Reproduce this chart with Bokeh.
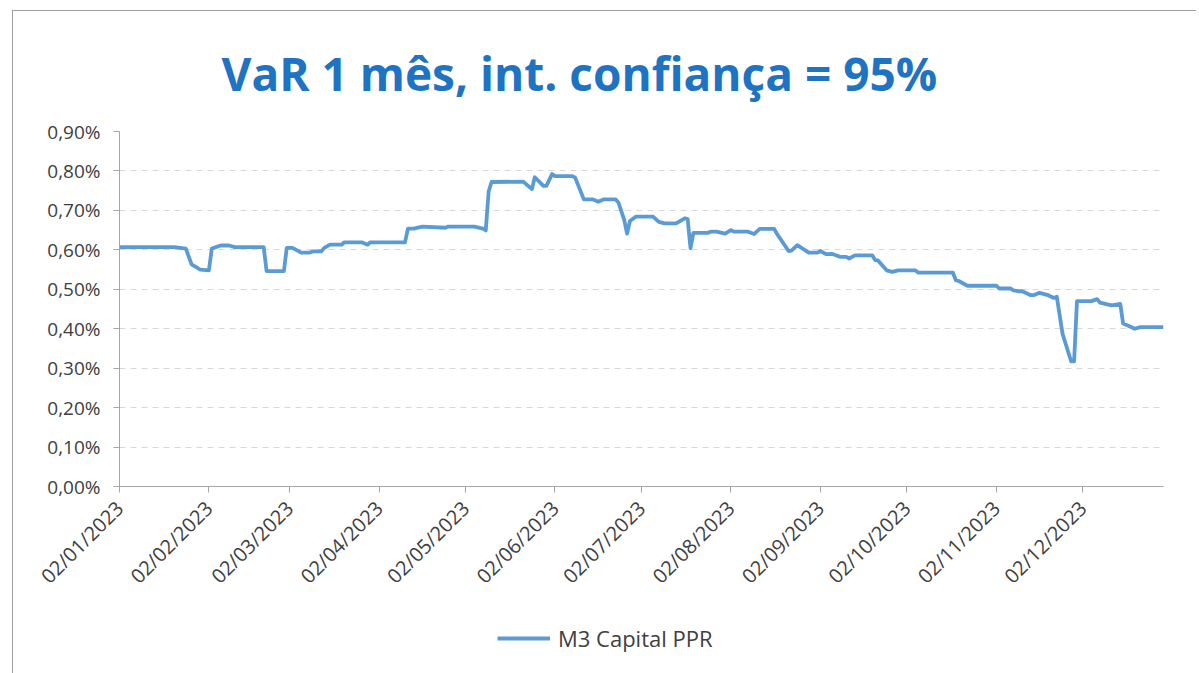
import pandas as pd
from bokeh.plotting import figure
from bokeh.layouts import column
from bokeh.models import Range1d, FixedTicker, Legend, LegendItem
from bokeh.embed import file_html
from bokeh.resources import INLINE

TITLE = "VaR 1 mês, int. confiança = 95%"
SERIES_NAME = "M3 Capital PPR"

DATES = [
    "2023-01-02", "2023-01-21", "2023-01-25", "2023-01-27", "2023-01-30",
    "2023-02-02", "2023-02-03", "2023-02-06", "2023-02-09", "2023-02-11", "2023-02-21", "2023-02-22", "2023-02-28",
    "2023-03-01", "2023-03-03", "2023-03-06", "2023-03-09", "2023-03-10", "2023-03-13", "2023-03-14", "2023-03-16",
    "2023-03-20", "2023-03-21", "2023-03-27", "2023-03-29", "2023-03-30",
    "2023-04-11", "2023-04-12", "2023-04-14", "2023-04-17", "2023-04-25", "2023-04-26",
    "2023-05-05", "2023-05-08", "2023-05-09", "2023-05-10", "2023-05-11", "2023-05-22", "2023-05-25", "2023-05-26",
    "2023-05-29", "2023-05-30",
    "2023-06-01", "2023-06-02", "2023-06-08", "2023-06-09", "2023-06-12", "2023-06-15", "2023-06-17", "2023-06-19",
    "2023-06-23", "2023-06-24", "2023-06-26", "2023-06-27", "2023-06-28", "2023-06-30",
    "2023-07-06", "2023-07-08", "2023-07-10", "2023-07-14", "2023-07-17", "2023-07-18", "2023-07-19", "2023-07-20",
    "2023-07-25", "2023-07-26", "2023-07-28", "2023-07-31",
    "2023-08-02", "2023-08-03", "2023-08-08", "2023-08-10", "2023-08-12", "2023-08-17", "2023-08-18", "2023-08-22",
    "2023-08-23", "2023-08-25", "2023-08-29",
    "2023-09-01", "2023-09-02", "2023-09-04", "2023-09-06", "2023-09-09", "2023-09-11", "2023-09-12", "2023-09-14",
    "2023-09-20", "2023-09-21", "2023-09-22", "2023-09-25", "2023-09-27", "2023-09-29",
    "2023-10-05", "2023-10-06", "2023-10-18", "2023-10-19", "2023-10-20", "2023-10-23",
    "2023-11-02", "2023-11-03", "2023-11-07", "2023-11-08", "2023-11-10", "2023-11-11", "2023-11-14", "2023-11-15",
    "2023-11-17", "2023-11-20", "2023-11-22", "2023-11-23", "2023-11-25", "2023-11-28", "2023-11-29", "2023-11-30",
    "2023-12-05", "2023-12-07", "2023-12-08", "2023-12-12", "2023-12-15", "2023-12-16", "2023-12-18", "2023-12-20",
    "2023-12-22", "2023-12-30",
]

VAR_PCT = [
    0.607, 0.607, 0.603, 0.563, 0.550,
    0.548, 0.603, 0.611, 0.611, 0.607, 0.607, 0.546, 0.546,
    0.605, 0.605, 0.593, 0.593, 0.596, 0.596, 0.605, 0.613,
    0.613, 0.619, 0.619, 0.613, 0.619,
    0.619, 0.654, 0.654, 0.659, 0.656, 0.659,
    0.659, 0.654, 0.649, 0.748, 0.772, 0.773, 0.754, 0.784,
    0.762, 0.762,
    0.792, 0.787, 0.787, 0.783, 0.728, 0.728, 0.722, 0.728,
    0.728, 0.720, 0.676, 0.641, 0.673, 0.684,
    0.684, 0.671, 0.667, 0.667, 0.680, 0.678, 0.604, 0.643,
    0.643, 0.646, 0.646, 0.641,
    0.650, 0.646, 0.646, 0.640, 0.653, 0.653, 0.640, 0.597,
    0.598, 0.612, 0.593,
    0.593, 0.597, 0.589, 0.590, 0.582, 0.582, 0.578, 0.586,
    0.586, 0.574, 0.573, 0.548, 0.544, 0.548,
    0.548, 0.542, 0.542, 0.523, 0.521, 0.509,
    0.509, 0.502, 0.502, 0.497, 0.495, 0.495, 0.485, 0.485,
    0.491, 0.485, 0.478, 0.481, 0.387, 0.317, 0.317, 0.470,
    0.470, 0.475, 0.466, 0.459, 0.463, 0.413, 0.407, 0.400,
    0.404, 0.404,
]

X_TICK_LABELS = ["02/01/2023", "02/02/2023", "02/03/2023", "02/04/2023", "02/05/2023", "02/06/2023",
                 "02/07/2023", "02/08/2023", "02/09/2023", "02/10/2023", "02/11/2023", "02/12/2023"]
Y_TICKS = [0.0, 0.1, 0.2, 0.3, 0.4, 0.5, 0.6, 0.7, 0.8, 0.9]
Y_TICK_LABELS = ["0,00%", "0,10%", "0,20%", "0,30%", "0,40%", "0,50%", "0,60%", "0,70%", "0,80%", "0,90%"]

X_START = "2023-01-02"
X_END = "2023-12-30"

assert len(DATES) == len(VAR_PCT)

FONT = "Open Sans"
LINE_COLOR = "#5b9bd5"
TEXT_COLOR = "#404040"
AXIS_COLOR = "#a6a6a6"

dates = pd.to_datetime(DATES)
x_tick_dates = pd.to_datetime(X_TICK_LABELS, format="%d/%m/%Y")
x_ticks_ms = [float(d.value // 10**6) for d in x_tick_dates]

# main chart
p = figure(width=1183, height=590, x_axis_type="datetime", output_backend="svg",
           toolbar_location=None, min_border_left=106, min_border_right=33,
           min_border_top=120, min_border_bottom=115,
           x_range=Range1d(pd.Timestamp(X_START), pd.Timestamp(X_END)),
           y_range=Range1d(0, 0.9))

p.title.text = TITLE
p.title.text_font = FONT
p.title.text_font_style = "bold"
p.title.text_font_size = "46px"
p.title.text_color = "#1f73c3"
p.title.align = "left"
p.title.offset = 102
p.title.standoff = 55

p.outline_line_color = None
p.background_fill_color = "white"
p.border_fill_color = "white"

r = p.line(dates, VAR_PCT, line_color=LINE_COLOR, line_width=3.8, line_join="round")

p.xgrid.grid_line_color = None
p.ygrid.grid_line_color = "#d9d9d9"
p.ygrid.grid_line_dash = "6 5"
p.ygrid.grid_line_width = 1

p.yaxis.ticker = FixedTicker(ticks=Y_TICKS)
p.yaxis.major_label_overrides = dict(zip(Y_TICKS, Y_TICK_LABELS))
p.xaxis.ticker = FixedTicker(ticks=x_ticks_ms)
p.xaxis.major_label_overrides = dict(zip(x_ticks_ms, X_TICK_LABELS))
p.xaxis.major_label_orientation = 0.785398

for ax in (p.xaxis, p.yaxis):
    ax.axis_line_color = AXIS_COLOR
    ax.major_tick_line_color = AXIS_COLOR
    ax.major_tick_in = 0
    ax.major_tick_out = 6
    ax.minor_tick_line_color = None
    ax.major_label_text_font = FONT
    ax.major_label_text_color = TEXT_COLOR
p.yaxis.major_label_text_font_size = "19px"
p.xaxis.major_label_text_font_size = "20px"
p.yaxis.major_label_standoff = 13
p.xaxis.major_label_standoff = 12

# legend strip below the chart (series drawn out of view, only its key shows)
p2 = figure(width=1183, height=72, output_backend="svg", toolbar_location=None,
            x_range=Range1d(0, 1), y_range=Range1d(0, 1),
            x_axis_location=None, y_axis_location=None,
            min_border_left=0, min_border_right=0, min_border_top=0, min_border_bottom=0)
p2.grid.visible = False
p2.outline_line_color = None
p2.background_fill_color = "white"
p2.border_fill_color = "white"
key = p2.line(dates, VAR_PCT, line_color=LINE_COLOR, line_width=3.8)

legend = Legend(items=[LegendItem(label=SERIES_NAME, renderers=[key])],
                location=(378, 20), orientation="horizontal",
                glyph_width=53, glyph_height=20, label_standoff=8,
                padding=0, margin=0, border_line_color=None,
                background_fill_alpha=0,
                label_text_font=FONT, label_text_font_size="22px",
                label_text_color=TEXT_COLOR)
p2.add_layout(legend, "center")

layout = column(p, p2, spacing=0, margin=(10, 0, 0, 12))
layout.styles = {"border-left": "1px solid #a0a0a0", "border-top": "1px solid #a0a0a0"}

open("out.html", "w").write(file_html(layout, INLINE))
